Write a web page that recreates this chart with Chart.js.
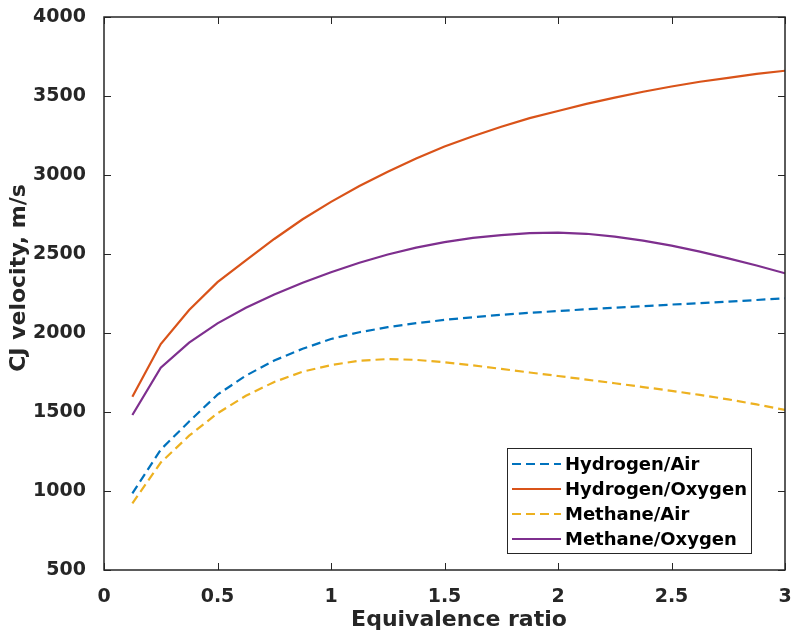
<!DOCTYPE html>
<html>
<head>
<meta charset="utf-8">
<script src="https://cdn.jsdelivr.net/npm/chart.js@4.4.1/dist/chart.umd.min.js"></script>
<style>
  html, body { margin: 0; padding: 0; background: #fff; }
</style>
</head>
<body>
<canvas id="cjChart" width="795" height="638"></canvas>
<script>
// equivalence ratio, step 0.125
const ratios = [0.125, 0.25, 0.375, 0.5, 0.625, 0.75, 0.875, 1.0, 1.125, 1.25, 1.375, 1.5,
                1.625, 1.75, 1.875, 2.0, 2.125, 2.25, 2.375, 2.5, 2.625, 2.75, 2.875, 3.0];

// CJ velocity, m/s
const hydrogenAir = [985, 1262, 1440, 1610, 1730, 1826, 1900, 1962, 2005, 2037, 2062, 2083,
                     2100, 2115, 2128, 2139, 2150, 2160, 2170, 2180, 2189, 2198, 2209, 2220];
const hydrogenOxygen = [1597, 1930, 2146, 2322, 2460, 2595, 2720, 2830, 2930, 3020, 3105, 3180,
                        3245, 3305, 3360, 3405, 3450, 3490, 3527, 3560, 3590, 3615, 3640, 3660];
const methaneAir = [922, 1180, 1350, 1492, 1603, 1690, 1755, 1797, 1825, 1835, 1830, 1815,
                    1795, 1773, 1750, 1728, 1705, 1682, 1658, 1634, 1608, 1580, 1548, 1513];
const methaneOxygen = [1481, 1780, 1939, 2061, 2160, 2243, 2318, 2385, 2445, 2497, 2540, 2575,
                       2602, 2620, 2632, 2635, 2628, 2610, 2585, 2553, 2515, 2472, 2427, 2378];

const xTicks = [0, 0.5, 1, 1.5, 2, 2.5, 3];
const yTicks = [500, 1000, 1500, 2000, 2500, 3000, 3500, 4000];

const xTitle = 'Equivalence ratio';
const yTitle = 'CJ velocity, m/s';

const FONT = "'DejaVu Sans', Verdana, sans-serif";
const AXIS_COLOR = '#262626';

function pts(ys) {
    return ratios.map((x, i) => ({ x: x, y: ys[i] }));
}

// matlab-like box with inward ticks on all four sides
const boxTicks = {
    id: 'boxTicks',
    afterDatasetsDraw(chart) {
        const { ctx, chartArea: a, scales } = chart;
        const len = 7;
        ctx.save();
        ctx.strokeStyle = AXIS_COLOR;
        ctx.lineWidth = 1;
        ctx.beginPath();
        xTicks.forEach(v => {
            const px = Math.round(scales.x.getPixelForValue(v)) + 0.5;
            ctx.moveTo(px, a.bottom); ctx.lineTo(px, a.bottom - len);
            ctx.moveTo(px, a.top); ctx.lineTo(px, a.top + len);
        });
        yTicks.forEach(v => {
            const py = Math.round(scales.y.getPixelForValue(v)) + 0.5;
            ctx.moveTo(a.left, py); ctx.lineTo(a.left + len, py);
            ctx.moveTo(a.right, py); ctx.lineTo(a.right - len, py);
        });
        ctx.stroke();
        ctx.lineWidth = 1.5;
        ctx.strokeRect(a.left, a.top, a.right - a.left, a.bottom - a.top);
        ctx.restore();
    }
};

// axis titles, placed like the matlab export
const axisTitles = {
    id: 'axisTitles',
    afterDraw(chart) {
        const ctx = chart.ctx;
        ctx.save();
        ctx.fillStyle = AXIS_COLOR;
        ctx.font = 'bold 22px ' + FONT;
        ctx.textAlign = 'center';
        ctx.textBaseline = 'middle';
        ctx.fillText(xTitle, 459, 620);
        ctx.translate(19, 278);
        ctx.rotate(-Math.PI / 2);
        ctx.fillText(yTitle, 0, 0);
        ctx.restore();
    }
};

// legend box inside the plot, lower right
const innerLegend = {
    id: 'innerLegend',
    afterDraw(chart) {
        const ctx = chart.ctx;
        const x0 = 507, y0 = 448, w = 244, h = 105;
        ctx.save();
        ctx.fillStyle = '#fff';
        ctx.fillRect(x0, y0, w, h);
        ctx.strokeStyle = AXIS_COLOR;
        ctx.lineWidth = 1;
        ctx.strokeRect(x0 + 0.5, y0 + 0.5, w, h);
        ctx.font = 'bold 18px ' + FONT;
        ctx.textBaseline = 'middle';
        chart.data.datasets.forEach((ds, i) => {
            const cy = y0 + 16 + i * 25;
            ctx.strokeStyle = ds.borderColor;
            ctx.lineWidth = 2;
            ctx.setLineDash(ds.borderDash || []);
            ctx.beginPath();
            ctx.moveTo(x0 + 5, cy);
            ctx.lineTo(x0 + 54, cy);
            ctx.stroke();
            ctx.setLineDash([]);
            ctx.fillStyle = '#000';
            ctx.fillText(ds.label, x0 + 58, cy + 1);
        });
        ctx.restore();
    }
};

const data = {
    datasets: [
        {
            label: 'Hydrogen/Air',
            data: pts(hydrogenAir),
            borderColor: '#0072BD',
            borderDash: [9, 5],
        },
        {
            label: 'Hydrogen/Oxygen',
            data: pts(hydrogenOxygen),
            borderColor: '#D95319',
        },
        {
            label: 'Methane/Air',
            data: pts(methaneAir),
            borderColor: '#EDB120',
            borderDash: [9, 5],
        },
        {
            label: 'Methane/Oxygen',
            data: pts(methaneOxygen),
            borderColor: '#7E2F8E',
        }
    ]
};

const config = {
    type: 'line',
    data: data,
    options: {
        responsive: false,
        animation: false,
        devicePixelRatio: 1,
        layout: { padding: { left: 0, top: 17, right: 10, bottom: 0 } },
        elements: {
            line: { borderWidth: 2.2, tension: 0, fill: false },
            point: { radius: 0 }
        },
        plugins: {
            legend: { display: false },
            tooltip: { enabled: false }
        },
        scales: {
            x: {
                type: 'linear',
                min: 0,
                max: 3,
                afterBuildTicks: s => { s.ticks = xTicks.map(v => ({ value: v })); },
                afterFit: s => {
                    s.height = 68;
                    s.paddingLeft = 0; s.paddingRight = 0;
                },
                grid: { display: false },
                border: { display: false },
                ticks: {
                    padding: 8,
                    color: AXIS_COLOR,
                    font: { family: FONT, size: 19, weight: 'bold' },
                    callback: v => String(v)
                }
            },
            y: {
                min: 500,
                max: 4000,
                afterBuildTicks: s => { s.ticks = yTicks.map(v => ({ value: v })); },
                afterFit: s => {
                    s.width = 104;
                    s.paddingTop = 0; s.paddingBottom = 0;
                },
                grid: { display: false },
                border: { display: false },
                ticks: {
                    padding: 10,
                    color: AXIS_COLOR,
                    font: { family: FONT, size: 19, weight: 'bold' },
                    callback: v => String(v)
                }
            }
        }
    },
    plugins: [boxTicks, axisTitles, innerLegend]
};

const cjChart = new Chart(document.getElementById('cjChart').getContext('2d'), config);
</script>
</body>
</html>
